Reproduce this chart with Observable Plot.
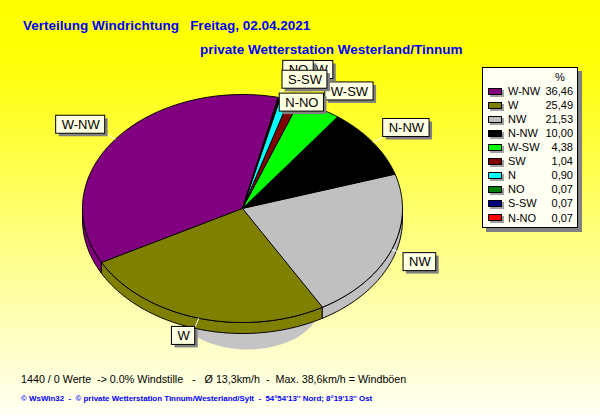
<!DOCTYPE html>
<html><head><meta charset="utf-8">
<script src="https://cdn.jsdelivr.net/npm/d3@7"></script>
<script src="https://cdn.jsdelivr.net/npm/@observablehq/plot@0.6"></script>
<style>
html,body{margin:0;padding:0;}
#chart{position:relative;width:600px;height:415px;overflow:hidden;
 background:linear-gradient(to bottom,#ffff00 0%,#ffff08 15%,#ffff50 41%,#ffff90 63%,#fffff4 100%);
 font-family:"Liberation Sans",Arial,sans-serif;}
#chart svg{position:absolute;left:0;top:0;}
.t{position:absolute;white-space:pre;line-height:1;}
.title{color:#0000ff;font-weight:bold;font-size:13.5px;}
#legend{position:absolute;left:482px;top:67px;width:94px;height:159px;background:#fffff4;border:1px solid #000;box-shadow:4px 4px 0 #808080;font-size:11px;color:#000;}
#legend .sw{position:absolute;left:5px;width:12px;height:5px;border:1px solid #000;box-shadow:2px 2px 0 #a0a0a0;}
#legend .lb{position:absolute;left:25px;line-height:1;white-space:pre;}
#legend .vl{position:absolute;right:4px;line-height:1;white-space:pre;text-align:right;}
</style></head>
<body><div id="chart"></div>
<script>
// ---- data ----
const directions = ["W-NW","W","NW","N-NW","W-SW","SW","N","NO","S-SW","N-NO"];
const percents   = [36.46, 25.49, 21.53, 10.00, 4.38, 1.04, 0.90, 0.07, 0.07, 0.07];
const valueLabels = ["36,46","25,49","21,53","10,00","4,38","1,04","0,90","0,07","0,07","0,07"];
const sliceColors = ["#800080","#808000","#c0c0c0","#000000","#00ff00","#800000","#00ffff","#008000","#000080","#ff0000"];
const titleText = "Verteilung Windrichtung   Freitag, 02.04.2021";
const subtitleText = "private Wetterstation Westerland/Tinnum";
const infoText = "1440 / 0 Werte  -> 0.0% Windstille   -   Ø 13,3km/h  -  Max. 38,6km/h = Windböen";
const footerText = "© WsWin32  -  © private Wetterstation Tinnum/Westerland/Sylt  -  54°54'13'' Nord; 8°19'13'' Ost";

// ---- layout ----
const START_ANGLE = 77;          // degrees, slices run counter-clockwise
const RX = 160, RY = 114;        // ellipse radii in px
const CX = 242, CY = 208;        // centre in px
const DEPTH = 11 / RY;           // 3D thickness in data units
const LABEL_R = 1.08;
const labelNudge = {"SW":[3,-13], "N":[0,-1], "NO":[0,-10], "N-NO":[-2,23]}; // px

const rad = a => a * Math.PI / 180;
function arc(s, e, dy = 0) {
  const n = Math.max(1, Math.ceil(Math.abs(e - s)));
  const pts = [];
  for (let k = 0; k <= n; k++) { const a = rad(s + (e - s) * k / n); pts.push([Math.cos(a), Math.sin(a) + dy]); }
  return pts;
}
const total = d3.sum(percents);
let acc = START_ANGLE;
const slices = directions.map((d, i) => {
  const span = percents[i] / total * 360; const a1 = acc; acc += span;
  return {dir: d, a1, a2: acc, mid: a1 + span / 2};
});

// top faces
const faces = slices.flatMap(s => [[0, 0], ...arc(s.a1, s.a2)].map(([x, y]) => ({dir: s.dir, x, y})));
// front side walls
const walls = [];
slices.forEach(s => {
  [[180, 360], [540, 720]].forEach(([f1, f2], j) => {
    const a = Math.max(s.a1, f1), b = Math.min(s.a2, f2);
    if (b > a) {
      const pts = [...arc(a, b, 0), ...arc(a, b, -DEPTH).reverse()];
      pts.forEach(([x, y]) => walls.push({key: s.dir + j, dir: s.dir, x, y}));
    }
  });
});
// shadow under the pie
const shadow = d3.range(0, 361, 2).map(a => ({x: 0.031 + 0.45 * Math.cos(rad(a)), y: -0.851 + 0.386 * Math.sin(rad(a))}));

// labels
const ctx = document.createElement("canvas").getContext("2d");
ctx.font = "13px 'Liberation Sans'";
const kx = 1 / RX, ky = 1 / RY;
const labels = slices.map(s => {
  const c = Math.cos(rad(s.mid)), sn = Math.sin(rad(s.mid));
  const ax = LABEL_R * c, ay = LABEL_R * sn;
  const w = (ctx.measureText(s.dir).width + 11) * kx, h = 18 * ky;
  const [nx, ny] = labelNudge[s.dir] || [0, 0];
  const bx = ax + nx * kx, by = ay - ny * ky;
  const x1 = c >= 0 ? bx : bx - w, x2 = x1 + w;
  const y1 = sn >= 0 ? by : by - h, y2 = y1 + h;
  return {dir: s.dir, lx1: c, ly1: sn, lx2: ax, ly2: ay, x1, x2, y1, y2, tx: (x1 + x2) / 2, ty: (y1 + y2) / 2};
});

const marks = [
  Plot.line(shadow, {x: "x", y: "y", fill: "#c4c4c4", stroke: null, curve: "linear-closed"}),
  Plot.line(walls, {x: "x", y: "y", z: "key", fill: "dir", stroke: "black", strokeWidth: 1, curve: "linear-closed"}),
  Plot.line(faces, {x: "x", y: "y", z: "dir", fill: "dir", stroke: "black", strokeWidth: 1, curve: "linear-closed"}),
  Plot.link(labels, {x1: "lx1", y1: "ly1", x2: "lx2", y2: "ly2", stroke: "white", strokeWidth: 1})
];
labels.forEach(l => {
  marks.push(Plot.rect([l], {x1: "x1", x2: "x2", y1: "y1", y2: "y2", fill: "#808080", dx: 3, dy: 3}));
  marks.push(Plot.rect([l], {x1: "x1", x2: "x2", y1: "y1", y2: "y2", fill: "#ffffe1", stroke: "black", strokeWidth: 1}));
  marks.push(Plot.text([l], {x: "tx", y: "ty", text: "dir", fontSize: 13, fontFamily: "Liberation Sans", fill: "black"}));
});

const chart = Plot.plot({
  width: 600, height: 415, margin: 0,
  x: {domain: [-1, 1], range: [CX - RX, CX + RX], axis: null},
  y: {domain: [-1, 1], range: [CY + RY, CY - RY], axis: null},
  color: {domain: directions, range: sliceColors},
  style: {background: "transparent", overflow: "visible"},
  marks
});
const root = document.getElementById("chart");
root.appendChild(chart);

function addText(txt, cls, left, top, style) {
  const d = document.createElement("div"); d.className = "t " + cls; d.textContent = txt;
  d.style.left = left + "px"; d.style.top = top + "px"; Object.assign(d.style, style || {});
  root.appendChild(d); return d;
}
function fitSize(txt, weight, target) {
  ctx.font = weight + " 10px 'Liberation Sans'";
  return 10 * target / ctx.measureText(txt).width;
}
addText(titleText, "title", 23, 18.6);
addText(subtitleText, "title", 200, 42.6);
const iSize = fitSize(infoText, "normal", 386);
addText(infoText, "", 21, 383 - 0.85 * iSize, {fontSize: iSize + "px", color: "#000"});
const fSize = fitSize(footerText, "bold", 352);
addText(footerText, "", 21, 402 - 0.85 * fSize, {fontSize: fSize + "px", color: "#0000ff", fontWeight: "bold"});

// legend
const lg = document.createElement("div"); lg.id = "legend"; root.appendChild(lg);
const pct = document.createElement("div"); pct.className = "lb"; pct.textContent = "%";
pct.style.left = "72px"; pct.style.top = "3.6px"; lg.appendChild(pct);
const colorScale = chart.scale("color");
directions.forEach((d, i) => {
  const cy = 23 + 14.1 * i;
  const sw = document.createElement("div"); sw.className = "sw";
  sw.style.top = (cy - 3.5) + "px"; sw.style.background = colorScale.apply(d); lg.appendChild(sw);
  const lb = document.createElement("div"); lb.className = "lb"; lb.textContent = d;
  lb.style.top = (cy - 5.4) + "px"; lg.appendChild(lb);
  const vl = document.createElement("div"); vl.className = "vl"; vl.textContent = valueLabels[i];
  vl.style.top = (cy - 5.4) + "px"; lg.appendChild(vl);
});
</script>
</body></html>
